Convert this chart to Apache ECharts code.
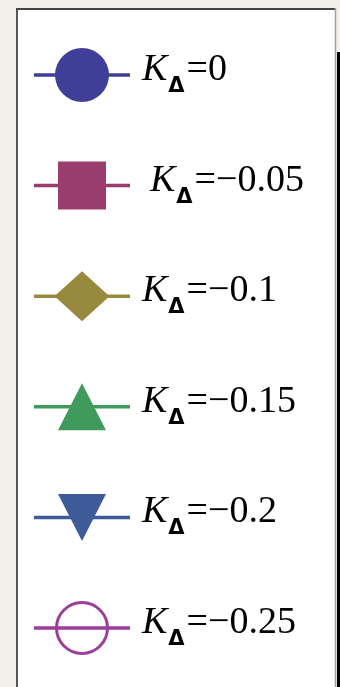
<!DOCTYPE html>
<html>
<head>
<meta charset="utf-8">
<style>
  html, body { margin: 0; padding: 0; background: #f3f0ea; }
  #chart { width: 340px; height: 687px; }
</style>
<script src="https://cdn.jsdelivr.net/npm/echarts@6/dist/echarts.min.js"></script>
</head>
<body>
<div id="chart"></div>
<script>
// Legend entries: coupling values and their marker styles
const kValues = [0, -0.05, -0.1, -0.15, -0.2, -0.25];
const seriesColors = ['#3f3f98', '#993e6c', '#978a3e', '#3e9b5c', '#3e5a99', '#9b3e99'];
const markerSymbols = ['circle', 'rect', 'diamond', 'triangle', 'triangle', 'circle'];
// short line segment drawn through each marker: start, marker, end
const segmentX = [0, 1, 2];

function formatValue(v) {
  if (v === 0) return '0';
  return (v < 0 ? '\u2212' : '') + String(Math.abs(v));
}

const markerSizes = [54, [48, 48], [55, 50], [48, 47], [48, 47], 51];

const series = kValues.map(function (v, i) {
  const hollow = i === 5;
  return {
    type: 'line',
    name: 'K' + i,
    lineStyle: { color: seriesColors[i], width: 3.5 },
    itemStyle: {
      color: hollow ? 'rgba(0,0,0,0)' : seriesColors[i],
      borderColor: seriesColors[i],
      borderWidth: hollow ? 3 : 0
    },
    z: 2,
    clip: false,
    animation: false,
    endLabel: {
      show: true,
      distance: i === 1 ? 20 : 12,
      offset: [0, -5],
      formatter: '{k|K}{d|\u0394}{v|=' + formatValue(v) + '}',
      rich: {
        k: { fontFamily: 'Liberation Serif', fontStyle: 'italic', fontSize: 38, color: '#000', lineHeight: 38 },
        d: { fontFamily: 'DejaVu Sans', fontWeight: 'bold', fontSize: 21, color: '#000', padding: [33, 2, 0, 1], lineHeight: 22 },
        v: { fontFamily: 'Liberation Serif', fontSize: 38, color: '#000', lineHeight: 38 }
      }
    },
    data: segmentX.map(function (x, j) {
      const item = { value: [x, i] };
      if (j === 1) {
        item.symbol = markerSymbols[i];
        item.symbolSize = markerSizes[i];
        item.symbolRotate = i === 4 ? 180 : 0;
      } else {
        item.symbol = 'none';
      }
      return item;
    })
  };
});

const chart = echarts.init(document.getElementById('chart'), null, { renderer: 'canvas' });
chart.setOption({
  backgroundColor: '#f3f0ea',
  animation: false,
  graphic: [
    { type: 'rect', shape: { x: 16, y: 8, width: 320, height: 700 }, style: { fill: '#ffffff', stroke: 'none' }, z: 0 },
    { type: 'line', shape: { x1: 17, y1: 8, x2: 17, y2: 687 }, style: { stroke: '#555', lineWidth: 2 }, z: 1 },
    { type: 'line', shape: { x1: 16, y1: 9, x2: 336, y2: 9 }, style: { stroke: '#444', lineWidth: 2 }, z: 1 },
    { type: 'line', shape: { x1: 335.5, y1: 8, x2: 335.5, y2: 687 }, style: { stroke: '#a0a0a0', lineWidth: 1.5 }, z: 1 },
    { type: 'rect', shape: { x: 337, y: 52, width: 3, height: 640 }, style: { fill: '#000' }, z: 1 }
  ],
  grid: { left: 34, width: 96, top: 19.7, height: 663.6, containLabel: false },
  xAxis: { type: 'value', min: 0, max: 2, show: false },
  yAxis: { type: 'value', min: -0.5, max: 5.5, inverse: true, show: false },
  series: series
});
</script>
</body>
</html>
